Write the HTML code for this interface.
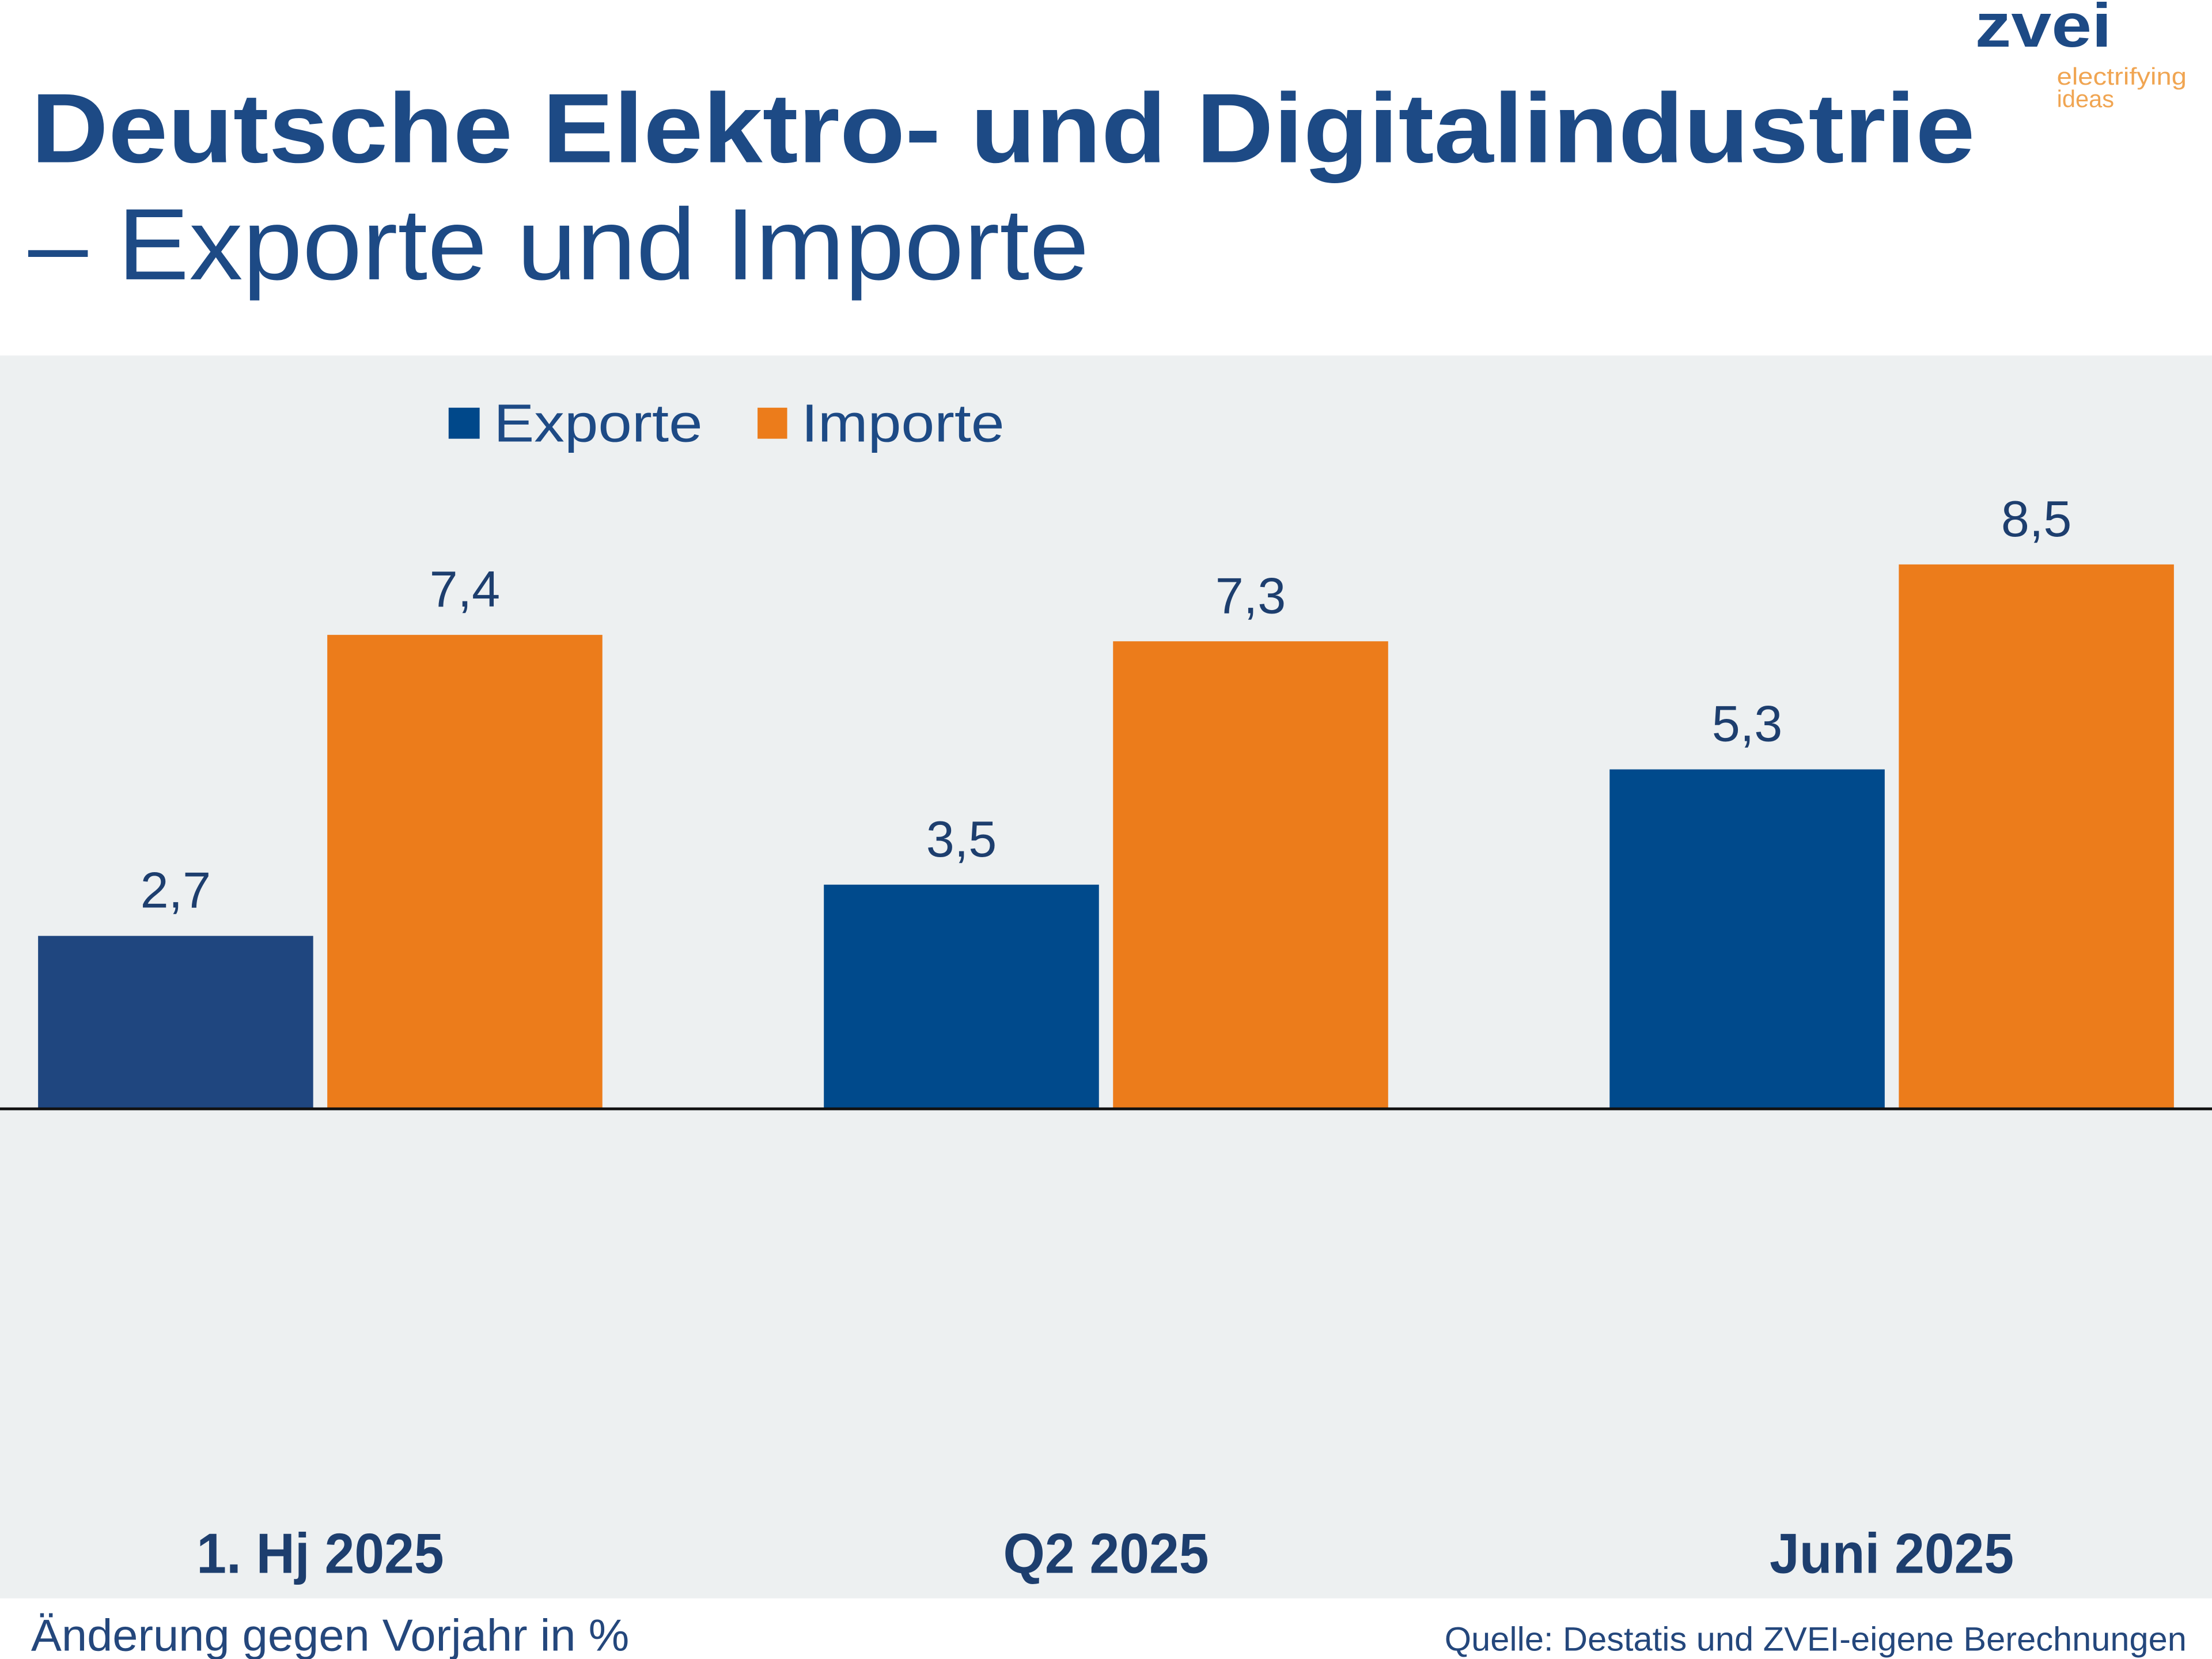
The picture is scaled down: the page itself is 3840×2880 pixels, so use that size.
<!DOCTYPE html>
<html><head><meta charset="utf-8"><style>html,body{margin:0;padding:0;background:#fff}svg{display:block}text{font-family:"Liberation Sans",sans-serif}</style></head>
<body>
<svg id="chart" width="3840" height="2880" viewBox="0 0 1568 1176" xmlns="http://www.w3.org/2000/svg">
<rect x="0" y="0" width="1568" height="1176" fill="#ffffff"/>
<rect x="0" y="252" width="1568" height="881" fill="#edf0f1"/>
<text x="22" y="115" font-size="70" font-weight="bold" fill="#1d4a85" textLength="1378" lengthAdjust="spacingAndGlyphs">Deutsche Elektro- und Digitalindustrie</text>
<text x="20" y="198" font-size="72" fill="#1d4a85" textLength="752" lengthAdjust="spacingAndGlyphs">– Exporte und Importe</text>
<text x="1400" y="33" font-size="44" font-weight="bold" fill="#1d4a85" textLength="97" lengthAdjust="spacingAndGlyphs">zvei</text>
<text x="1458" y="60" font-size="17" fill="#f0a552" textLength="92" lengthAdjust="spacingAndGlyphs">electrifying</text>
<text x="1458" y="76" font-size="17" fill="#f0a552">ideas</text>
<rect x="318" y="289" width="22" height="22" fill="#00488a"/>
<text x="350" y="313" font-size="38" fill="#1d4a85" textLength="148" lengthAdjust="spacingAndGlyphs">Exporte</text>
<rect x="537" y="289" width="21" height="22" fill="#ec7c1b"/>
<text x="568" y="313" font-size="38" fill="#1d4a85" textLength="144" lengthAdjust="spacingAndGlyphs">Importe</text>
<g id="bars"></g>
<line x1="0" y1="786" x2="1568" y2="786" stroke="#111" stroke-width="2"/>
<text x="22" y="1170" font-size="32" fill="#24477c" textLength="424" lengthAdjust="spacingAndGlyphs">Änderung gegen Vorjahr in %</text>
<text x="1550" y="1170" font-size="24" fill="#24477c" text-anchor="end" textLength="526" lengthAdjust="spacingAndGlyphs">Quelle: Destatis und ZVEI-eigene Berechnungen</text>
</svg>
<script>
const categories = ["1. Hj 2025", "Q2 2025", "Juni 2025"];
const exporte = [2.7, 3.5, 5.3];
const importe = [7.4, 7.3, 8.5];
const valueLabels = (v) => v.toFixed(1).replace('.', ',');
const NS = "http://www.w3.org/2000/svg";
const g = document.getElementById('bars');
const zeroY = 786, unit = 45.4;
const yScale = v => zeroY - v * unit;
const groupStart = i => 27 + i * 557;
const barW = 195;
function mk(tag, attrs, text) {
  const e = document.createElementNS(NS, tag);
  for (const k in attrs) e.setAttribute(k, attrs[k]);
  if (text !== undefined) e.textContent = text;
  g.appendChild(e);
  return e;
}
categories.forEach((c, i) => {
  const x0 = groupStart(i);
  const series = [[exporte[i], i === 0 ? "#1f467f" : "#004a8c", x0, 'export'], [importe[i], "#ec7c1b", x0 + 205, 'import']];
  series.forEach(([v, col, x, nm]) => {
    const r = mk('rect', {x: x, y: yScale(v), width: barW, height: zeroY - yScale(v), fill: col});
    
    
    const t = mk('text', {x: x + barW / 2, y: yScale(v) - 20, 'font-size': 36, fill: '#1d3e6e', 'text-anchor': 'middle'}, valueLabels(v));
    
    
  });
  const cx = x0 + 200;
  const cl = mk('text', {x: cx, y: 1115, 'font-size': 40, 'font-weight': 'bold', fill: '#1d3e6e', 'text-anchor': 'middle', transform: 'translate(' + cx + ',0) scale(0.95,1) translate(' + (-cx) + ',0)'}, c);
  
  
});
</script>
</body></html>
